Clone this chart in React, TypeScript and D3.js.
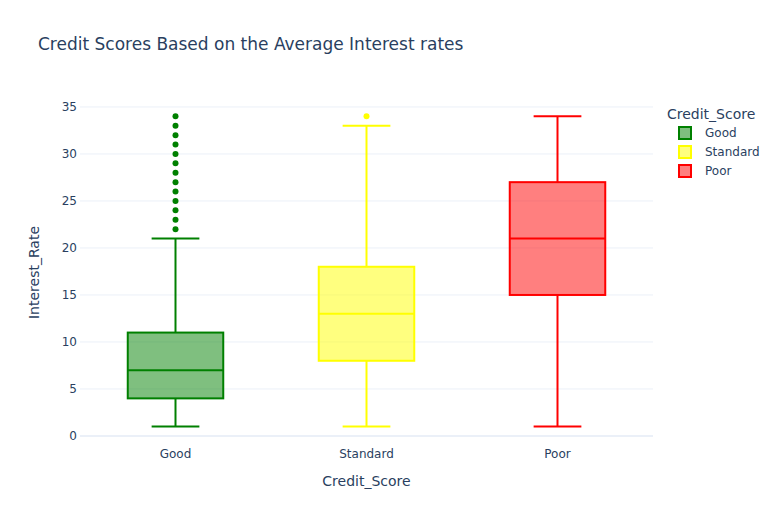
import React from "react";
import * as d3 from "d3";

const categories = ["Good", "Standard", "Poor"];
const colors = ["green", "yellow", "red"];
const lowerWhisker = [1, 1, 1];
const q1 = [4, 8, 15];
const median = [7, 13, 21];
const q3 = [11, 18, 27];
const upperWhisker = [21, 33, 34];
const outliers: number[][] = [
  [22, 23, 24, 25, 26, 27, 28, 29, 30, 31, 32, 33, 34],
  [34],
  [],
];
const yTicks = [0, 5, 10, 15, 20, 25, 30, 35];

const W = 777;
const H = 525;
const left = 80;
const right = 653;
const top = 100;
const bottom = 445;
const font = "'DejaVu Sans', Verdana, sans-serif";
const textColor = "#2a3f5f";
const grid = "#ebf0f8";

export default function App() {
  const x = d3.scaleBand<string>().domain(categories).range([left, right]);
  const y = d3.scaleLinear().domain([-0.96, 35.74]).range([bottom, top]);
  const bw = x.bandwidth() * 0.5;
  const cw = bw * 0.5;

  return (
    <svg width={W} height={H} style={{ position: "absolute", left: 0, top: 0, background: "white", fontFamily: font }}>
      <rect x={0} y={0} width={W} height={H} fill="white" />
      {yTicks.map((t) => (
        <g key={t}>
          <line
            x1={left}
            x2={right}
            y1={y(t)}
            y2={y(t)}
            stroke={grid}
            strokeWidth={t === 0 ? 2 : 1}
          />
          <text x={left - 3} y={y(t)} dy="0.35em" textAnchor="end" fontSize={12} fill={textColor}>
            {t}
          </text>
        </g>
      ))}
      {categories.map((c, i) => {
        const cx = (x(c) as number) + x.bandwidth() / 2;
        const col = colors[i];
        return (
          <g key={c}>
            <line x1={cx} x2={cx} y1={y(lowerWhisker[i])} y2={y(q1[i])} stroke={col} strokeWidth={2} />
            <line x1={cx} x2={cx} y1={y(q3[i])} y2={y(upperWhisker[i])} stroke={col} strokeWidth={2} />
            <line x1={cx - cw / 2} x2={cx + cw / 2} y1={y(lowerWhisker[i])} y2={y(lowerWhisker[i])} stroke={col} strokeWidth={2} />
            <line x1={cx - cw / 2} x2={cx + cw / 2} y1={y(upperWhisker[i])} y2={y(upperWhisker[i])} stroke={col} strokeWidth={2} />
            <rect
              x={cx - bw / 2}
              y={y(q3[i])}
              width={bw}
              height={y(q1[i]) - y(q3[i])}
              fill={col}
              fillOpacity={0.5}
              stroke={col}
              strokeWidth={2}
            />
            <line x1={cx - bw / 2} x2={cx + bw / 2} y1={y(median[i])} y2={y(median[i])} stroke={col} strokeWidth={2} />
            {outliers[i].map((o, k) => (
              <circle key={k} cx={cx} cy={y(o)} r={3} fill={col} />
            ))}
            <text x={cx} y={458} textAnchor="middle" fontSize={12} fill={textColor}>
              {c}
            </text>
          </g>
        );
      })}
      <text x={38} y={50} fontSize={17} fill={textColor}>
        Credit Scores Based on the Average Interest rates
      </text>
      <text x={(left + right) / 2} y={486} textAnchor="middle" fontSize={14} fill={textColor}>
        Credit_Score
      </text>
      <text
        transform={`translate(39,${(top + bottom) / 2}) rotate(-90)`}
        textAnchor="middle"
        fontSize={14}
        fill={textColor}
      >
        Interest_Rate
      </text>
      <text x={667} y={119} fontSize={14} fill={textColor}>
        Credit_Score
      </text>
      {categories.map((c, i) => (
        <g key={c} transform={`translate(0,${133 + i * 19})`}>
          <rect x={679} y={-6} width={12} height={12} fill={colors[i]} fillOpacity={0.5} stroke={colors[i]} strokeWidth={2} />
          <text x={705} y={0} dy="0.35em" fontSize={12} fill={textColor}>
            {c}
          </text>
        </g>
      ))}
    </svg>
  );
}
